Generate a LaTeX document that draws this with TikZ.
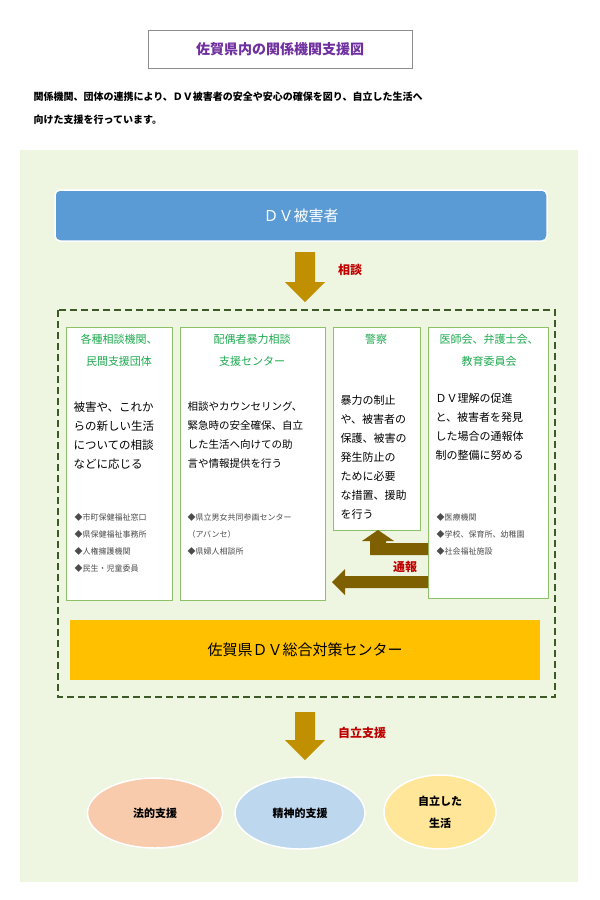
\documentclass[tikz,border=0pt]{standalone}
\usepackage{fontspec}
\setmainfont{Noto Sans CJK JP}
\usetikzlibrary{shapes.geometric}
\definecolor{bgg}{HTML}{EEF5E1}
\definecolor{boxg}{HTML}{8CC168}
\definecolor{headg}{HTML}{1EAA50}
\definecolor{dashg}{HTML}{3B5A28}
\definecolor{arrgold}{HTML}{C09000}
\definecolor{arrbrown}{HTML}{7F6000}
\definecolor{redl}{HTML}{C00000}
\definecolor{purp}{HTML}{7030A0}
\tikzset{
 org/.style={draw=boxg,line width=1.2pt,fill=white},
 head/.style={text=headg,font=\fontsize{11}{22}\selectfont,align=center,anchor=north},
 body/.style={font=\fontsize{11.5}{19}\selectfont,align=left,anchor=north west},
 item/.style={font=\fontsize{8}{17}\selectfont,text=black!70,align=left,anchor=north west},
 lab/.style={text=redl,font=\bfseries\fontsize{12}{14}\selectfont},
 ell/.style={ellipse,draw=white,line width=1.5pt,font=\bfseries\fontsize{11}{22}\selectfont,align=center}
}
\begin{document}
\begin{tikzpicture}[x=1pt,y=-1pt]
\useasboundingbox[fill=white] (0,0) rectangle (600,900);
\node[draw=black!45,fill=white,minimum width=264,minimum height=38,text=purp,font=\bfseries\fontsize{14}{16}\selectfont] (title) at (280,49) {佐賀県内の関係機関支援図};
\node[anchor=north west,align=left,font=\bfseries\fontsize{10}{23}\selectfont] (intro) at (30,88) {関係機関、団体の連携により、ＤＶ被害者の安全や安心の確保を図り、自立した生活へ\\向けた支援を行っています。};
\fill[bgg] (20,150) rectangle (578,882);
\node[rounded corners=5,fill={rgb,255:red,91;green,155;blue,213},draw=white,line width=1.5pt,minimum width=492,minimum height=51,text=white,font=\fontsize{15}{17}\selectfont] (victim) at (301,215.5) {ＤＶ被害者};
\fill[arrgold] (295,252) rectangle (315,282) (285,282) -- (325,282) -- (305,302) -- cycle;
\node[lab] (l1) at (350,270) {相談};
\draw[dashg,line width=2.2pt,dash pattern=on 7pt off 4pt] (58,310) rectangle (555,697);
\node[org,minimum width=106,minimum height=273,anchor=north west] (b1) at (66,327) {};
\node[org,minimum width=145,minimum height=273,anchor=north west] (b2) at (180,327) {};
\node[org,minimum width=87,minimum height=203,anchor=north west] (b3) at (333,327) {};
\node[org,minimum width=120,minimum height=271,anchor=north west] (b4) at (428,327) {};
\node[head] at (119,331) {各種相談機関、\\民間支援団体};
\node[head] at (252,331) {配偶者暴力相談\\支援センター};
\node[head] at (376,331) {警察};
\node[head,anchor=north west] at (436,331) {医師会、弁護士会、\\教育委員会};
\node[body] at (70,398) {被害や、これか\\らの新しい生活\\についての相談\\などに応じる};
\node[body,font=\fontsize{10.5}{19}\selectfont] at (184,398) {相談やカウンセリング、\\緊急時の安全確保、自立\\した生活へ向けての助\\言や情報提供を行う};
\node[body,font=\fontsize{11}{19}\selectfont] at (337,392) {暴力の制止\\や、被害者の\\保護、被害の\\発生防止の\\ために必要\\な措置、援助\\を行う};
\node[body,font=\fontsize{11}{19}\selectfont] at (432,390) {ＤＶ理解の促進\\と、被害者を発見\\した場合の通報体\\制の整備に努める};
\node[item] at (71,510) {◆市町保健福祉窓口\\◆県保健福祉事務所\\◆人権擁護機関\\◆民生・児童委員};
\node[item] at (184,510) {◆県立男女共同参画センター\\（アバンセ）\\◆県婦人相談所};
\node[item] at (433,510) {◆医療機関\\◆学校、保育所、幼稚園\\◆社会福祉施設};
\fill[arrbrown] (428,543) -- (386,543) -- (386,541) -- (394,541) -- (378,530) -- (362,541) -- (370,541) -- (370,555) -- (428,555) -- cycle;
\fill[arrbrown] (428,576) -- (345,576) -- (345,569) -- (332,582) -- (345,595) -- (345,588) -- (428,588) -- cycle;
\node[lab] (l2) at (405,567) {通報};
\node[fill={rgb,255:red,255;green,192;blue,0},minimum width=470,minimum height=60] (center) at (305,650) {\fontsize{15}{17}\selectfont 佐賀県ＤＶ総合対策センター};
\fill[arrgold] (295,712) rectangle (315,740) (285,740) -- (325,740) -- (305,760) -- cycle;
\node[lab] (l3) at (362,733) {自立支援};
\node[ell,fill={rgb,255:red,248;green,203;blue,173},minimum width=135,minimum height=70] (e1) at (155,813) {法的支援};
\node[ell,fill={rgb,255:red,189;green,215;blue,238},minimum width=130,minimum height=72] (e2) at (300,813) {精神的支援};
\node[ell,fill={rgb,255:red,255;green,230;blue,153},minimum width=112,minimum height=74] (e3) at (440,812) {自立した\\生活};
\end{tikzpicture}
\end{document}
